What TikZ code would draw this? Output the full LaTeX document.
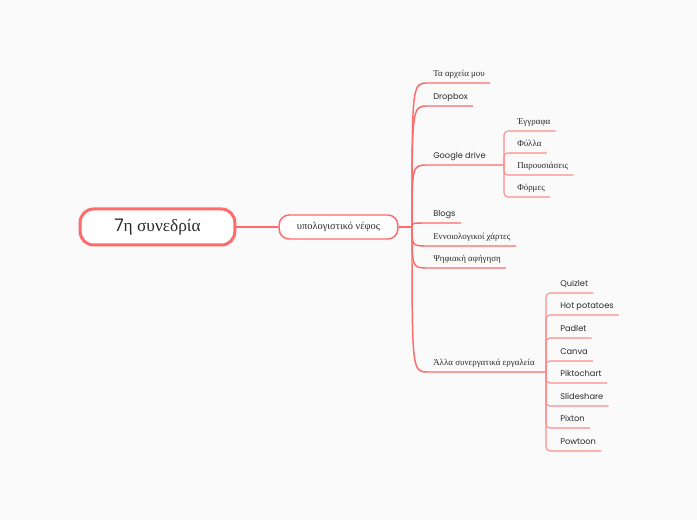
\documentclass[tikz,border=0pt]{standalone}
\usepackage{fontspec}
\setmainfont{Liberation Serif}
\newfontfamily\popfont{Poppins}
\definecolor{mapline}{HTML}{FF6B6B}
\definecolor{maptwig}{HTML}{FF8C8C}
\definecolor{maptext}{HTML}{2B2B2B}
\definecolor{mapbg}{HTML}{FAFAFA}
\tikzset{
  rootbox/.style={draw=mapline, line width=2.25pt, rounded corners=10pt, fill=white,
    minimum width=116pt, minimum height=27pt, text=maptext, font=\fontsize{13}{15}\selectfont},
  topicbox/.style={draw=mapline, line width=1.1pt, rounded corners=7.5pt, fill=white,
    minimum width=89pt, minimum height=18pt, text=maptext, font=\fontsize{7.8}{9}\selectfont},
  leaf/.style={anchor=south west, inner xsep=3.75pt, inner ysep=0pt, text depth=4.5pt,
    text=maptext, font=\fontsize{6.7}{8}\selectfont},
  latin/.style={font=\popfont\fontsize{6.2}{8}\selectfont},
  branch/.style={draw=mapline, line width=1.1pt},
  twig/.style={draw=maptwig, line width=0.8pt, rounded corners=3pt}
}
\begin{document}
\begin{tikzpicture}[x=0.75pt, y=-0.75pt]
\fill[mapbg] (0,0) rectangle (697,520);
\useasboundingbox (0,0) rectangle (697,520);
\node[rootbox] (root) at (157.5,227) {{\popfont 7}η συνεδρία};
\node[topicbox] (cloud) at (338.5,227) {υπολογιστικό νέφος};
\coordinate (hub) at (412,227);
\coordinate (drivehub) at (504,165);
\coordinate (toolhub) at (546,372);
\draw[branch] (root) -- (cloud);
\draw[branch] (cloud) -- (hub);
\node[leaf] (files) at (428,83) {Τα αρχεία μου};
\node[leaf, latin] (dropbox) at (428,106) {Dropbox};
\node[leaf, latin] (drive) at (428,165) {Google drive};
\node[leaf, latin] (blogs) at (428,223) {Blogs};
\node[leaf] (maps) at (428,246) {Εννοιολογικοί χάρτες};
\node[leaf] (story) at (428,268) {Ψηφιακή αφήγηση};
\node[leaf] (tools) at (428,372) {Άλλα συνεργατικά εργαλεία};
\foreach \leafname in {files, dropbox, blogs, maps, story}
  \draw[branch] (hub) .. controls (hub |- \leafname.south west) .. (\leafname.south west) -- (\leafname.south east);
\draw[branch] (hub) .. controls (hub |- drive.south west) .. (drive.south west) -- (drivehub);
\draw[branch] (hub) .. controls (hub |- tools.south west) .. (tools.south west) -- (toolhub);
\foreach \doc/\yu [count=\i] in {Έγγραφα/131, Φύλλα/153, Παρουσιάσεις/175, Φόρμες/197} {
  \node[leaf] (doc\i) at (512,\yu) {\doc};
  \draw[twig] (drivehub) -- (drivehub |- doc\i.south west) -- (doc\i.south east);
}
\foreach \app/\yu [count=\i] in {Quizlet/293, Hot potatoes/315, Padlet/338, Canva/361,
    Piktochart/383, Slideshare/406, Pixton/428, Powtoon/451} {
  \node[leaf, latin] (app\i) at (555,\yu) {\app};
  \draw[twig] (toolhub) -- (toolhub |- app\i.south west) -- (app\i.south east);
}
\end{tikzpicture}
\end{document}
